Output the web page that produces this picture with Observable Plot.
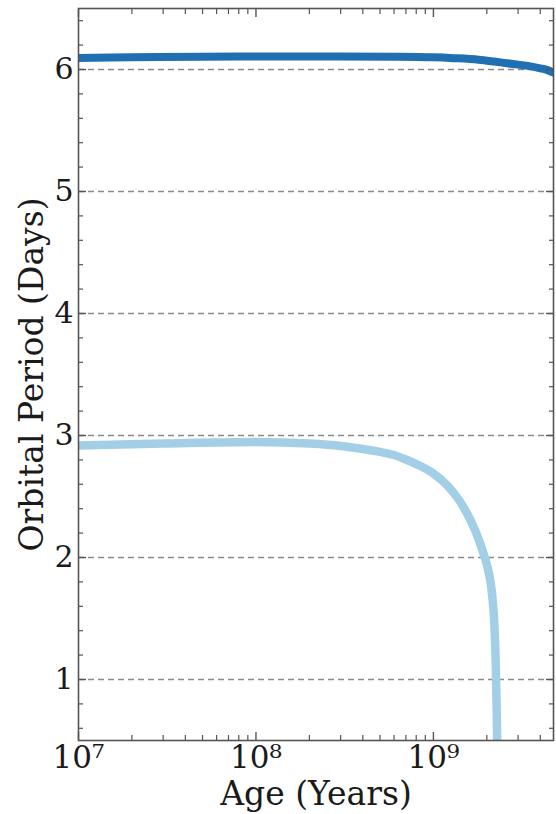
<!DOCTYPE html>
<html><head><meta charset="utf-8">
<script src="https://cdn.jsdelivr.net/npm/d3@7"></script>
<script src="https://cdn.jsdelivr.net/npm/@observablehq/plot@0.6"></script>
<style>body{margin:0;background:#fff}</style>
</head><body><div id="chart"></div>
<script>
// Outer planet (dark blue)
const darkAge    = [1e7, 2e7, 5e7, 1e8, 3e8, 6e8, 1e9, 1.3e9, 1.8e9, 2.2e9, 2.8e9, 3.4e9, 4.0e9, 4.4e9, 4.75e9];
const darkPeriod = [6.095, 6.10, 6.105, 6.107, 6.107, 6.105, 6.10, 6.093, 6.08, 6.065, 6.045, 6.03, 6.01, 5.995, 5.975];
// Inner planet (light blue)
const lightAge    = [1e7, 3e7, 1e8, 2e8, 3e8, 4e8, 5e8, 6e8, 7e8, 8e8, 1e9, 1.2e9, 1.4e9, 1.6e9, 1.8e9, 1.9e9, 2.0e9, 2.1e9, 2.15e9, 2.2e9, 2.23e9, 2.25e9, 2.27e9, 2.29e9, 2.30e9];
const lightPeriod = [2.918, 2.934, 2.947, 2.934, 2.914, 2.889, 2.866, 2.840, 2.803, 2.766, 2.689, 2.590, 2.467, 2.320, 2.148, 2.049, 1.943, 1.795, 1.672, 1.484, 1.279, 1.074, 0.787, 0.459, 0.2];

const xMajorTicks = [1e7, 1e8, 1e9];
const xTickLabels = ["10⁷", "10⁸", "10⁹"];
const xMinorTicks = [2e7, 3e7, 4e7, 5e7, 6e7, 7e7, 8e7, 9e7, 2e8, 3e8, 4e8, 5e8, 6e8, 7e8, 8e8, 9e8, 2e9, 3e9, 4e9];
const yMajorTicks = [1, 2, 3, 4, 5, 6];
const yMinorTicks = [0.6, 0.8, 1.2, 1.4, 1.6, 1.8, 2.2, 2.4, 2.6, 2.8, 3.2, 3.4, 3.6, 3.8, 4.2, 4.4, 4.6, 4.8, 5.2, 5.4, 5.6, 5.8, 6.2, 6.4];
const xLabel = "Age (Years)";
const yLabel = "Orbital Period (Days)";

const dark = darkAge.map((a, i) => ({age: a, period: darkPeriod[i]}));
const light = lightAge.map((a, i) => ({age: a, period: lightPeriod[i]}));
const xFmt = new Map(xMajorTicks.map((t, i) => [t, xTickLabels[i]]));

const axisColor = "#555";
const textColor = "#1a1a1a";

const chart = Plot.plot({
  width: 556, height: 814,
  marginLeft: 78, marginRight: 3, marginTop: 8, marginBottom: 74,
  style: {fontFamily: "DejaVu Serif", background: "#fff"},
  x: {type: "log", domain: [1e7, 4.75e9]},
  y: {domain: [0.5, 6.5]},
  marks: [
    Plot.gridY(yMajorTicks, {stroke: "#8a8a8a", strokeOpacity: 1, strokeWidth: 1.4, strokeDasharray: "6,4"}),
    Plot.line(dark, {x: "age", y: "period", stroke: "#1f6fb2", strokeWidth: 8, curve: "monotone-x", clip: true}),
    Plot.line(light, {x: "age", y: "period", stroke: "#a3cfe6", strokeWidth: 8.5, curve: "monotone-x", clip: true}),
    Plot.frame({stroke: axisColor, strokeWidth: 1.6}),
    // bottom axis
    Plot.axisX(xMajorTicks, {anchor: "bottom", tickSize: -8, tickPadding: 13, tickFormat: d => xFmt.get(d), fontSize: 31, fill: textColor, stroke: axisColor, strokeWidth: 1.4, label: null}),
    Plot.axisX(xMinorTicks, {anchor: "bottom", tickSize: -5, fill: "none", stroke: axisColor, strokeWidth: 1.2, label: null}),
    // top axis
    Plot.axisX(xMajorTicks, {anchor: "top", tickSize: -8, fill: "none", stroke: axisColor, strokeWidth: 1.4, label: null}),
    Plot.axisX(xMinorTicks, {anchor: "top", tickSize: -5, fill: "none", stroke: axisColor, strokeWidth: 1.2, label: null}),
    // left axis
    Plot.axisY(yMajorTicks, {anchor: "left", tickSize: -8, tickPadding: 13, tickFormat: d => String(d), fontSize: 30, fill: textColor, stroke: axisColor, strokeWidth: 1.4, label: null}),
    Plot.axisY(yMinorTicks, {anchor: "left", tickSize: -5, fill: "none", stroke: axisColor, strokeWidth: 1.2, label: null}),
    // right axis
    Plot.axisY(yMajorTicks, {anchor: "right", tickSize: -8, fill: "none", stroke: axisColor, strokeWidth: 1.4, label: null}),
    Plot.axisY(yMinorTicks, {anchor: "right", tickSize: -5, fill: "none", stroke: axisColor, strokeWidth: 1.2, label: null}),
    // axis titles
    Plot.text([xLabel], {text: d => d, frameAnchor: "bottom", dy: 54, fontSize: 33, fill: textColor, textAnchor: "middle", lineAnchor: "middle"}),
    Plot.text([yLabel], {text: d => d, frameAnchor: "left", dx: -46, rotate: -90, fontSize: 33, fill: textColor, textAnchor: "middle", lineAnchor: "middle"})
  ]
});
document.getElementById("chart").appendChild(chart);
</script>
</body></html>
